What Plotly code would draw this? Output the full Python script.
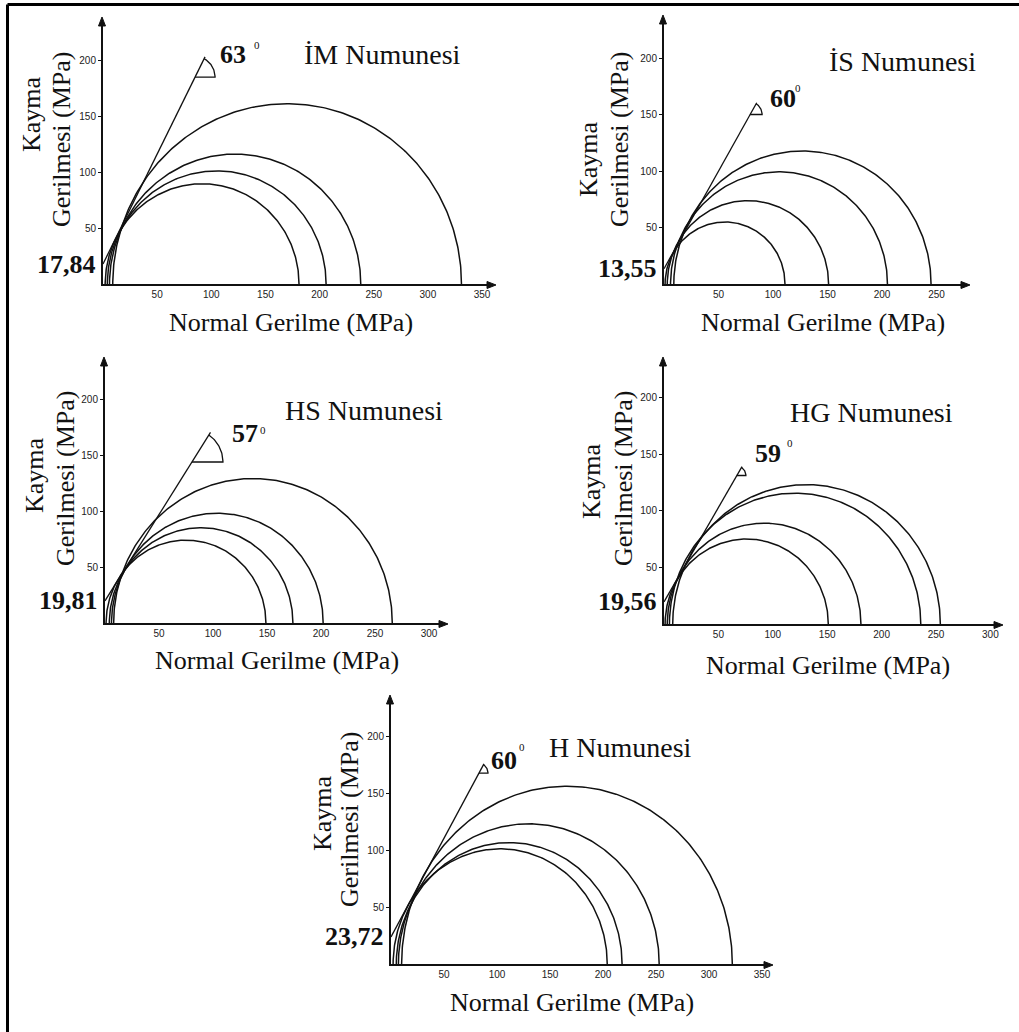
import numpy as np
import plotly.graph_objects as go

W, H = 1019, 1032

# ---- data -------------------------------------------------------------
samples = ["İM Numunesi", "İS Numunesi", "HS Numunesi", "HG Numunesi", "H Numunesi"]
cohesion = [17.84, 13.55, 19.81, 19.56, 23.72]          # MPa
friction_angle = [63, 60, 57, 59, 60]                    # degrees

# minor / major principal stresses of each test (MPa)
sigma3_im = [2, 4, 6, 9]
sigma1_im = [181, 206, 238, 331]
sigma3_is = [1, 3, 6, 9]
sigma1_is = [111, 151, 205, 245]
sigma3_hs = [1, 4, 6, 8]
sigma1_hs = [149, 174, 202, 266]
sigma3_hg = [1, 3, 5, 8]
sigma1_hg = [151, 181, 236, 254]
sigma3_h = [2, 5, 7, 10]
sigma1_h = [204, 218, 253, 322]

sigma3_all = [sigma3_im, sigma3_is, sigma3_hs, sigma3_hg, sigma3_h]
sigma1_all = [sigma1_im, sigma1_is, sigma1_hs, sigma1_hg, sigma1_h]

# normal stress where each failure envelope is cut off (angle marker vertex)
envelope_end = [85, 79, 80.5, 67, 83]

x_ticks_im = [50, 100, 150, 200, 250, 300, 350]
x_ticks_is = [50, 100, 150, 200, 250]
x_ticks_hs = [50, 100, 150, 200, 250, 300]
x_ticks_hg = [50, 100, 150, 200, 250, 300]
x_ticks_h = [50, 100, 150, 200, 250, 300, 350]
x_ticks_all = [x_ticks_im, x_ticks_is, x_ticks_hs, x_ticks_hg, x_ticks_h]
y_ticks = [50, 100, 150, 200]

# ---- panel geometry (pixels) -----------------------------------------
# origin, px per MPa, x-arrow tip, y-arrow tip, angle-marker radius (px)
panels = [
    dict(ox=103, oy=284, sx=1.083, sy=1.12, xend=493, ytop=20, mark=20,
         title=(302, 55), ang=(233, 55), deg=(257, 45),
         xt=(291, 322), k=(32, 114), g=(61, 140)),
    dict(ox=664, oy=284, sx=1.09, sy=1.127, xend=967, ytop=18, mark=12,
         title=(827, 62), ang=(783, 99), deg=(798, 88),
         xt=(823, 322), k=(588, 159), g=(619, 140)),
    dict(ox=105, oy=623, sx=1.08, sy=1.12, xend=445, ytop=360, mark=31,
         title=(283, 410), ang=(245, 433), deg=(263, 430),
         xt=(277, 660), k=(35, 475), g=(66, 479)),
    dict(ox=664, oy=624, sx=1.088, sy=1.133, xend=1000, ytop=360, mark=9,
         title=(788, 412), ang=(768, 453), deg=(790, 443),
         xt=(828, 665), k=(592, 481), g=(624, 479)),
    dict(ox=391, oy=964, sx=1.06, sy=1.14, xend=770, ytop=698, mark=9,
         title=(547, 747), ang=(504, 760), deg=(522, 747),
         xt=(572, 1002), k=(322, 813), g=(349, 820)),
]

SERIF = "Liberation Serif, Times New Roman, serif"
SANS = "Liberation Sans Narrow, Arial Narrow, Liberation Sans, Arial, sans-serif"
INK = "#111111"


def px(x, y):
    return x / W, 1 - y / H


def tri_path(points):
    """Closed SVG path in paper coordinates from pixel points."""
    parts = []
    for k, (x, y) in enumerate(points):
        u, v = px(x, y)
        parts.append(("M" if k == 0 else "L") + f"{u:.5f},{v:.5f}")
    return " ".join(parts) + " Z"


fig = go.Figure()
annotations = []
shapes = []
layout_axes = {}

t = np.linspace(0, np.pi, 241)

for i, p in enumerate(panels):
    n = "" if i == 0 else str(i + 1)
    xr, yr = "x" + n, "y" + n
    xmax = (p["xend"] - p["ox"]) / p["sx"]
    ymax = (p["oy"] - p["ytop"]) / p["sy"]

    # Mohr circles
    for s3, s1 in zip(sigma3_all[i], sigma1_all[i]):
        c = (s1 + s3) / 2
        r = (s1 - s3) / 2
        fig.add_trace(go.Scatter(
            x=c + r * np.cos(t), y=r * np.sin(t), mode="lines",
            line=dict(color=INK, width=1.5), xaxis=xr, yaxis=yr,
            hoverinfo="skip", showlegend=False))

    # Mohr-Coulomb envelope with its angle marker
    phi = np.radians(friction_angle[i])
    coh = cohesion[i]
    vx = envelope_end[i]
    vy = coh + vx * np.tan(phi)
    R = p["mark"] / p["sx"]
    ext = 1.1 * R
    fig.add_trace(go.Scatter(
        x=[0, vx + ext * np.cos(phi)], y=[coh, vy + ext * np.sin(phi)],
        mode="lines", line=dict(color=INK, width=1.3), xaxis=xr, yaxis=yr,
        hoverinfo="skip", showlegend=False))
    arc = np.linspace(0, phi, 40)
    fig.add_trace(go.Scatter(
        x=np.concatenate([[vx], vx + R * np.cos(arc)]),
        y=np.concatenate([[vy], vy + R * np.sin(arc)]),
        mode="lines", line=dict(color=INK, width=1.3), xaxis=xr, yaxis=yr,
        hoverinfo="skip", showlegend=False))

    x0, y1 = px(p["ox"], p["oy"])
    x1, y0 = px(p["xend"], p["ytop"])
    layout_axes["xaxis" + n] = dict(
        domain=[x0, x1], range=[0, xmax], anchor=yr,
        showline=True, linewidth=2, linecolor=INK, showgrid=False,
        zeroline=False, ticks="", tickvals=x_ticks_all[i],
        tickfont=dict(family=SANS, size=10, color="#222222"),
        fixedrange=True)
    layout_axes["yaxis" + n] = dict(
        domain=[y1, y0], range=[0, ymax], anchor=xr,
        showline=True, linewidth=2, linecolor=INK, showgrid=False,
        zeroline=False, ticks="outside", ticklen=3, tickwidth=1,
        tickcolor=INK, tickvals=y_ticks,
        tickfont=dict(family=SANS, size=10, color="#222222"),
        fixedrange=True)

    # arrowheads at the ends of both axes
    xe, oy, ox, yt = p["xend"], p["oy"] + 1, p["ox"] - 1, p["ytop"]
    shapes.append(dict(type="path", xref="paper", yref="paper",
                       path=tri_path([(xe + 3, oy), (xe - 6, oy - 3.5), (xe - 6, oy + 3.5)]),
                       fillcolor=INK, line=dict(color=INK, width=1)))
    shapes.append(dict(type="path", xref="paper", yref="paper",
                       path=tri_path([(ox, yt - 3), (ox - 3.5, yt + 6), (ox + 3.5, yt + 6)]),
                       fillcolor=INK, line=dict(color=INK, width=1)))

    # cohesion value at the envelope intercept
    annotations.append(dict(x=0, y=coh, xref=xr, yref=yr,
                            text="<b>%s</b>" % f"{coh:.2f}".replace(".", ","),
                            showarrow=False, xanchor="right", yanchor="middle",
                            xshift=-5, font=dict(family=SERIF, size=26, color=INK)))

    # sample name
    tx, ty = px(*p["title"])
    annotations.append(dict(x=tx, y=ty, xref="paper", yref="paper",
                            text=samples[i], showarrow=False,
                            xanchor="left", yanchor="middle",
                            font=dict(family=SERIF, size=28, color=INK)))

    # friction angle label
    ax_, ay_ = px(*p["ang"])
    annotations.append(dict(x=ax_, y=ay_, xref="paper", yref="paper",
                            text="<b>%d</b>" % friction_angle[i], showarrow=False,
                            xanchor="center", yanchor="middle",
                            font=dict(family=SERIF, size=26, color=INK)))
    dx, dy = px(*p["deg"])
    annotations.append(dict(x=dx, y=dy, xref="paper", yref="paper",
                            text="0", showarrow=False,
                            xanchor="center", yanchor="middle",
                            font=dict(family=SERIF, size=11, color=INK)))

    # axis titles
    xx, xy = px(*p["xt"])
    annotations.append(dict(x=xx, y=xy, xref="paper", yref="paper",
                            text="Normal Gerilme (MPa)", showarrow=False,
                            xanchor="center", yanchor="middle",
                            font=dict(family=SERIF, size=26, color=INK)))
    kx, ky = px(*p["k"])
    annotations.append(dict(x=kx, y=ky, xref="paper", yref="paper",
                            text="Kayma", showarrow=False, textangle=-90,
                            xanchor="center", yanchor="middle",
                            font=dict(family=SERIF, size=26, color=INK)))
    gx, gy = px(*p["g"])
    annotations.append(dict(x=gx, y=gy, xref="paper", yref="paper",
                            text="Gerilmesi (MPa)", showarrow=False, textangle=-90,
                            xanchor="center", yanchor="middle",
                            font=dict(family=SERIF, size=26, color=INK)))

# frame along the top and left edges
shapes.append(dict(type="line", xref="paper", yref="paper",
                   x0=7.5 / W, x1=1, y0=1 - 4.5 / H, y1=1 - 4.5 / H,
                   line=dict(color="black", width=3)))
shapes.append(dict(type="line", xref="paper", yref="paper",
                   x0=7.5 / W, x1=7.5 / W, y0=0, y1=1 - 4.5 / H,
                   line=dict(color="black", width=3)))

fig.update_layout(
    width=W, height=H, margin=dict(l=0, r=0, t=0, b=0),
    paper_bgcolor="white", plot_bgcolor="white", showlegend=False,
    annotations=annotations, shapes=shapes, **layout_axes)

fig.write_html("out.html", config={"displayModeBar": False})
